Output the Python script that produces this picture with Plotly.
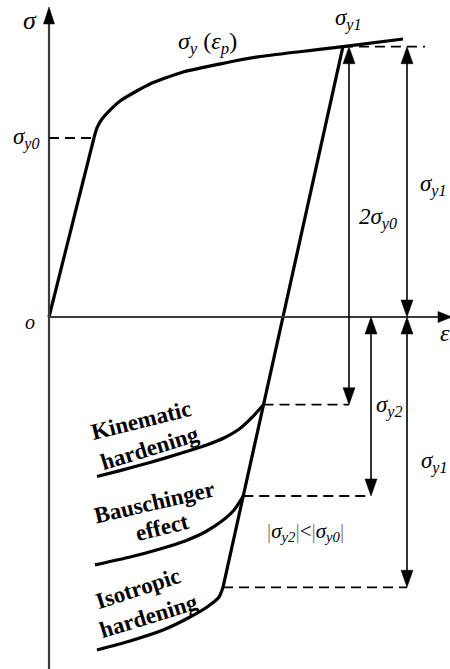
import plotly.graph_objects as go

# ---- stress levels (normalised by the initial yield stress) ----
sig_y0 = 1.0
sig_y1 = 1.51
sig_y2 = -1.0
sig_kin = sig_y1 - 2 * sig_y0      # reverse yield, kinematic hardening
sig_iso = -sig_y1                  # reverse yield, isotropic hardening

# ---- first loading ----
eps_y0 = 0.251                     # strain at initial yield

# monotonic hardening curve sigma_y(eps_p)
hard_eps = [0.251, 0.268, 0.296, 0.341, 0.397, 0.480, 0.564, 0.749, 0.983, 1.168, 1.400, 1.642, 1.978]
hard_sig = [1.000, 1.056, 1.106, 1.156, 1.207, 1.257, 1.302, 1.369, 1.419, 1.453, 1.482, 1.510, 1.553]

# elastic unloading from sigma_y1 down to the isotropic reverse yield
eps_unload = 1.642
eps_iso = 0.972

# ---- reverse-loading branches (after the reverse yield point) ----
kin_eps = [1.134, 1.067, 0.983, 0.872, 0.732, 0.564, 0.397, 0.268]
kin_sig = [-0.561, -0.623, -0.673, -0.718, -0.763, -0.813, -0.858, -0.891]

bau_eps = [1.034, 0.966, 0.872, 0.760, 0.620, 0.453, 0.257]
bau_sig = [-1.078, -1.140, -1.201, -1.251, -1.296, -1.341, -1.385]

iso_eps = [0.950, 0.883, 0.788, 0.637, 0.453, 0.268]
iso_sig = [-1.564, -1.620, -1.676, -1.749, -1.810, -1.860]

# ---- drawing scale: pixels per unit on both axes ----
PX = 179.0
X_RANGE = [-49 / PX, 401 / PX]
Y_RANGE = [-352 / PX, 317 / PX]


def on_unload(s):
    """Strain on the elastic unloading line at stress s."""
    return eps_unload + (s - sig_y1) * (eps_unload - eps_iso) / (sig_y1 - sig_iso)


def u(p):
    """Convert a pixel length into data units."""
    return p / PX


fig = go.Figure()
BLACK = "#000000"
AXIS = "#3a3a3a"


def curve(xs, ys, smooth=True, width=3.2):
    fig.add_trace(go.Scatter(
        x=xs, y=ys, mode="lines",
        line=dict(color=BLACK, width=width, shape="spline" if smooth else "linear",
                  smoothing=0.6),
        hoverinfo="skip", showlegend=False))


# elastic loading
curve([0, eps_y0], [0, sig_y0], smooth=False)
# hardening curve
curve(hard_eps, hard_sig)
# elastic unloading line
curve([eps_unload, eps_iso], [sig_y1, sig_iso], smooth=False)

# reverse branches start on the unloading line
k0 = on_unload(sig_kin)
b0 = on_unload(sig_y2)
i0 = on_unload(sig_iso)
curve([k0] + kin_eps, [sig_kin] + kin_sig)
curve([b0] + bau_eps, [sig_y2] + bau_sig)
curve([i0] + iso_eps, [sig_iso] + iso_sig)

shapes = []


def seg(x0, y0, x1, y1, color=BLACK, width=1.6, dash=None):
    shapes.append(dict(type="line", xref="x", yref="y", x0=x0, y0=y0, x1=x1, y1=y1,
                       line=dict(color=color, width=width, dash=dash)))


def head(x, y, direction, w=12, h=17, color=BLACK):
    hw, hh = u(w) / 2, u(h)
    if direction == "up":
        pts = [(x, y), (x - hw, y - hh), (x + hw, y - hh)]
    elif direction == "down":
        pts = [(x, y), (x - hw, y + hh), (x + hw, y + hh)]
    else:  # right
        pts = [(x, y), (x - hh, y + hw), (x - hh, y - hw)]
    path = "M " + " L ".join(f"{a},{b}" for a, b in pts) + " Z"
    shapes.append(dict(type="path", xref="x", yref="y", path=path,
                       fillcolor=color, line=dict(color=color, width=0.5)))


# coordinate axes
sig_top = u(310)
eps_right = u(403)
seg(0, Y_RANGE[0], 0, sig_top - u(10), color=AXIS, width=2.2)
head(0, sig_top, "up", w=11, h=17, color=BLACK)
seg(0, 0, eps_right - u(10), 0, color=AXIS, width=2.2)
head(eps_right, 0, "right", w=11, h=14, color=BLACK)

# dashed reference levels
DASH = "10px,6px"
seg(0, sig_y0, eps_y0, sig_y0, dash=DASH, width=1.8)
x_2s = u(300)          # 2*sigma_y0 dimension line
x_s2 = u(322)          # sigma_y2 dimension line
x_s1 = u(358)          # sigma_y1 dimension lines
seg(eps_unload, sig_y1, u(376), sig_y1, dash=DASH, width=1.8)
seg(k0, sig_kin, x_2s, sig_kin, dash=DASH, width=1.8)
seg(b0, sig_y2, x_s2, sig_y2, dash=DASH, width=1.8)
seg(i0, sig_iso, x_s1, sig_iso, dash=DASH, width=1.8)


def dim(x, ya, yb):
    """Double-headed dimension arrow between ya (top) and yb (bottom)."""
    seg(x, ya - u(12), x, yb + u(12), width=1.6)
    head(x, ya, "up")
    head(x, yb, "down")


dim(x_2s, sig_y1, sig_kin)
dim(x_s1, sig_y1, 0)
dim(x_s1, 0, sig_iso)
dim(x_s2, 0, sig_y2)

fig.update_layout(shapes=shapes)

SERIF = "Times New Roman, Liberation Serif, DejaVu Serif, serif"


def label(x, y, text, size=23, bold=False, angle=0, xanchor="center"):
    if bold:
        text = "<b>" + text + "</b>"
    fig.add_annotation(x=x, y=y, xref="x", yref="y", text=text, showarrow=False,
                       textangle=angle, xanchor=xanchor, yanchor="middle",
                       font=dict(family=SERIF, size=size, color=BLACK))


S = "<i>σ</i>"
label(u(-19), u(297), S, size=26)
label(u(-7), sig_y0, S + "<sub><i>y0</i></sub>", xanchor="right")
label(u(-19), u(-5), "<i>o</i>", size=20)
label(u(396), u(-16), "<i>ε</i>", size=24)
label(u(158), u(274), S + "<sub><i>y</i></sub> (<i>ε</i><sub><i>p</i></sub>)", size=24)
label(u(299), u(298), S + "<sub><i>y1</i></sub>")
label(u(384), u(132), S + "<sub><i>y1</i></sub>")
label(u(329), u(99), "<i>2σ</i><sub><i>y0</i></sub>")
label(u(340), u(-89), S + "<sub><i>y2</i></sub>")
label(u(385), u(-145), S + "<sub><i>y1</i></sub>")
label(u(256), u(-215),
      "<span style='color:#777'>|</span>" + S + "<sub><i>y2</i></sub>"
      "<span style='color:#777'>|</span>&lt;<span style='color:#777'>|</span>"
      + S + "<sub><i>y0</i></sub><span style='color:#777'>|</span>", size=21)

label(u(92), u(-103), "Kinematic", bold=True, angle=-14)
label(u(100), u(-131), "hardening", bold=True, angle=-17)
label(u(105), u(-185), "Bauschinger", bold=True, angle=-13)
label(u(113), u(-210), "effect", bold=True, angle=-14)
label(u(89), u(-271), "Isotropic", bold=True, angle=-18)
label(u(99), u(-299), "hardening", bold=True, angle=-17)

fig.update_layout(
    width=450, height=669,
    margin=dict(l=0, r=0, t=0, b=0),
    paper_bgcolor="white", plot_bgcolor="white",
    font=dict(family=SERIF),
    xaxis=dict(range=X_RANGE, visible=False, fixedrange=True),
    yaxis=dict(range=Y_RANGE, visible=False, fixedrange=True),
    showlegend=False,
)

fig.write_html("out.html")
